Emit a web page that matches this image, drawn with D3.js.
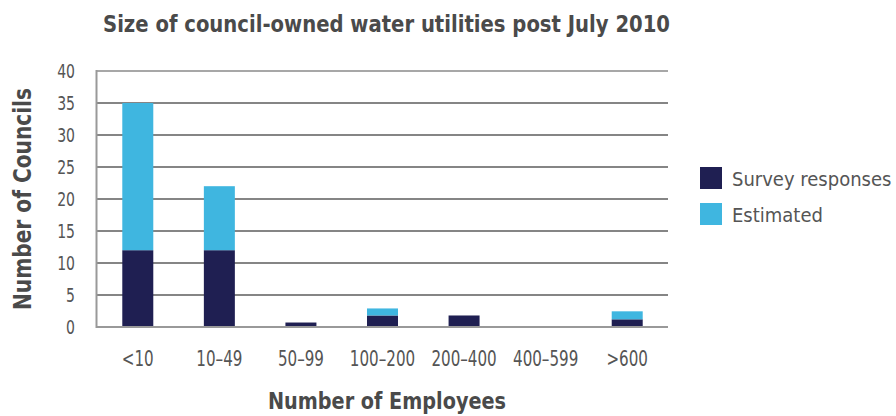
<!DOCTYPE html>
<html>
<head>
<meta charset="utf-8">
<script src="https://cdn.jsdelivr.net/npm/d3@7"></script>
<style>
  html, body { margin: 0; padding: 0; background: #fff; }
  svg { display: block; }
  text { font-family: "Liberation Sans Narrow", "DejaVu Sans Condensed", "Roboto", sans-serif; }
</style>
</head>
<body>
<svg id="chart" width="896" height="416"></svg>
<script>
const categories = ["<10", "10\u201349", "50\u201399", "100\u2013200", "200\u2013400", "400\u2013599", ">600"];
const surveyResponses = [12, 12, 0.7, 1.8, 1.8, 0, 1.2];
const estimated = [23, 10, 0, 1.1, 0, 0, 1.25];
const yTicks = [0, 5, 10, 15, 20, 25, 30, 35, 40];
const seriesNames = ["Survey responses", "Estimated"];
const seriesColors = ["#1f1f52", "#3fb6e0"];

const svg = d3.select("#chart");
const x = d3.scaleBand().domain(categories).range([97, 668]).paddingInner(0.62).paddingOuter(0.31);
const y = d3.scaleLinear().domain([0, 40]).range([327, 71]);

function compress(sel, factor) {
  sel.each(function () {
    const w = this.getComputedTextLength();
    d3.select(this).attr("textLength", w * factor).attr("lengthAdjust", "spacingAndGlyphs");
  });
}

const rows = categories.map((c, i) => ({ cat: c, survey: surveyResponses[i], est: estimated[i] }));
const stack = d3.stack().keys(["survey", "est"])(rows);

// gridlines
svg.append("g").selectAll("line").data(yTicks.filter(t => t > 0)).join("line")
  .attr("x1", 97).attr("x2", 668)
  .attr("y1", d => y(d)).attr("y2", d => y(d))
  .attr("stroke", d => d === 40 ? "#8a8a8a" : "#5c5c5c").attr("stroke-width", 1.3);

// bars
svg.append("g").selectAll("g").data(stack).join("g")
  .attr("fill", (d, i) => seriesColors[i])
  .selectAll("rect").data(d => d).join("rect")
  .attr("x", d => x(d.data.cat))
  .attr("width", x.bandwidth())
  .attr("y", d => y(d[1]))
  .attr("height", d => Math.max(0, y(d[0]) - y(d[1])));

// axes lines
svg.append("line").attr("x1", 96.5).attr("x2", 96.5).attr("y1", 70).attr("y2", 328)
  .attr("stroke", "#999").attr("stroke-width", 2);
svg.append("line").attr("x1", 96).attr("x2", 668).attr("y1", 327).attr("y2", 327)
  .attr("stroke", "#999").attr("stroke-width", 2);

// y tick labels
const yAxis = d3.axisLeft(y).tickValues(yTicks).tickSize(0).tickPadding(21);
const gy = svg.append("g").attr("transform", "translate(96,0)").call(yAxis);
gy.select(".domain").remove();
gy.selectAll("text").attr("font-size", 19).attr("fill", "#555")
  .style("font-family", "'Liberation Sans Narrow','DejaVu Sans Condensed',Roboto,sans-serif");
compress(gy.selectAll("text"), 0.82);

// x tick labels
const xAxis = d3.axisBottom(x).tickSize(0).tickPadding(24);
const gx = svg.append("g").attr("transform", "translate(0,327)").call(xAxis);
gx.select(".domain").remove();
gx.selectAll("text").attr("font-size", 20.5).attr("fill", "#555")
  .style("font-family", "'Liberation Sans Narrow','DejaVu Sans Condensed',Roboto,sans-serif");
compress(gx.selectAll("text"), 0.82);

// title
svg.append("text").attr("x", 103).attr("y", 32)
  .attr("font-size", 23).attr("font-weight", "bold").attr("fill", "#4a4a4a")
  .attr("textLength", 567).attr("lengthAdjust", "spacingAndGlyphs")
  .text("Size of council-owned water utilities post July 2010");

// x axis title
svg.append("text").attr("x", 268).attr("y", 409)
  .attr("font-size", 23).attr("font-weight", "bold").attr("fill", "#4a4a4a")
  .attr("textLength", 238).attr("lengthAdjust", "spacingAndGlyphs")
  .text("Number of Employees");

// y axis title
svg.append("text").attr("transform", "translate(31,310) rotate(-90)")
  .attr("font-size", 25).attr("font-weight", "bold").attr("fill", "#4a4a4a")
  .attr("textLength", 222).attr("lengthAdjust", "spacingAndGlyphs")
  .text("Number of Councils");

// legend
const lg = svg.append("g").selectAll("g").data(seriesNames).join("g")
  .attr("transform", (d, i) => `translate(700,${167 + i * 36})`);
lg.append("rect").attr("width", 22).attr("height", 22).attr("fill", (d, i) => seriesColors[i]);
lg.append("text").attr("x", 32).attr("y", 18.5).attr("font-size", 20).attr("fill", "#555")
  .text(d => d);
</script>
</body>
</html>
